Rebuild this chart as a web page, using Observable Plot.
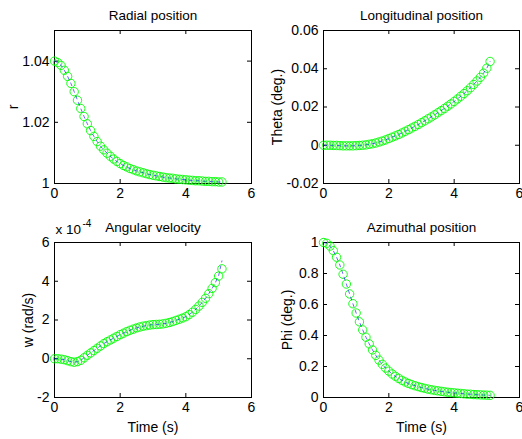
<!DOCTYPE html>
<html><head><meta charset="utf-8">
<script src="https://cdn.jsdelivr.net/npm/d3@7"></script>
<script src="https://cdn.jsdelivr.net/npm/@observablehq/plot@0.6"></script>
<style>
html,body{margin:0;padding:0;background:#fff;}
#fig{position:relative;width:522px;height:439px;overflow:hidden;}
#fig svg{position:absolute;}
</style></head>
<body><div id="fig"></div>
<script>
const time = [0,0.1,0.2,0.3,0.4,0.5,0.6,0.7,0.8,0.9,1.0,1.1,1.2,1.3,1.4,1.5,1.6,1.7,1.8,1.9,2.0,2.1,2.2,2.3,2.4,2.5,2.6,2.7,2.8,2.9,3.0,3.1,3.2,3.3,3.4,3.5,3.6,3.7,3.8,3.9,4.0,4.1,4.2,4.3,4.4,4.5,4.6,4.7,4.8,4.9,5.0,5.1];
const radial = [1.0400,1.0395,1.0386,1.0370,1.0350,1.0327,1.0300,1.0272,1.0245,1.0219,1.0195,1.0173,1.0154,1.0137,1.0122,1.0110,1.0099,1.0089,1.0080,1.0072,1.0065,1.0059,1.0054,1.0049,1.0045,1.0041,1.0038,1.0035,1.0032,1.0029,1.0027,1.0025,1.0023,1.0021,1.0019,1.0018,1.0017,1.0015,1.0014,1.0013,1.0012,1.0011,1.0010,1.0009,1.0009,1.0008,1.0007,1.0007,1.0006,1.0006,1.0005,1.0005];
const theta = [0,0,0,-0.0001,-0.0001,-0.0002,-0.0003,-0.0003,-0.0003,-0.0003,-0.0002,-0.0001,0.0000,0.0002,0.0005,0.0008,0.0012,0.0017,0.0022,0.0028,0.0035,0.0042,0.0049,0.0056,0.0064,0.0073,0.0081,0.0090,0.0099,0.0108,0.0118,0.0128,0.0138,0.0148,0.0159,0.0170,0.0181,0.0192,0.0204,0.0216,0.0229,0.0242,0.0256,0.0270,0.0285,0.0301,0.0318,0.0336,0.0355,0.0377,0.0403,0.0438];
const omegaE4 = [0,0,-0.02,-0.05,-0.10,-0.15,-0.18,-0.15,-0.08,0.05,0.18,0.30,0.42,0.54,0.66,0.78,0.88,0.97,1.06,1.15,1.24,1.32,1.40,1.47,1.53,1.59,1.64,1.68,1.71,1.74,1.76,1.77,1.78,1.80,1.83,1.87,1.92,1.98,2.04,2.10,2.17,2.28,2.40,2.55,2.72,2.91,3.12,3.36,3.63,3.93,4.27,4.64];
const omegaLineE4 = [0,0,-0.02,-0.05,-0.10,-0.15,-0.18,-0.15,-0.08,0.05,0.18,0.30,0.42,0.54,0.66,0.78,0.88,0.97,1.06,1.15,1.24,1.32,1.40,1.47,1.53,1.59,1.64,1.68,1.71,1.74,1.76,1.77,1.78,1.80,1.83,1.87,1.92,1.98,2.04,2.10,2.17,2.28,2.40,2.55,2.72,2.91,3.12,3.36,3.63,3.93,4.30,5.05];
const phi = [1.000,0.995,0.977,0.947,0.905,0.855,0.795,0.732,0.668,0.605,0.545,0.488,0.436,0.389,0.346,0.307,0.272,0.241,0.214,0.190,0.170,0.152,0.137,0.123,0.111,0.100,0.091,0.083,0.076,0.070,0.064,0.059,0.054,0.050,0.046,0.043,0.040,0.037,0.034,0.032,0.030,0.028,0.026,0.024,0.022,0.021,0.019,0.018,0.017,0.016,0.015,0.014];

const titles = ["Radial position","Longitudinal position","Angular velocity","Azimuthal position"];
const yLabels = ["r","Theta (deg.)","w (rad/s)","Phi (deg.)"];
const xLabel = "Time (s)";
const xTicks = [0,2,4,6];
const yTicksR = [1,1.02,1.04];
const yTicksTheta = [-0.02,0,0.02,0.04,0.06];
const yTicksW = [-2,0,2,4,6];
const yTicksPhi = [0,0.2,0.4,0.6,0.8,1];

const fmt = d => String(+(+d).toFixed(4));
const FONT = "'Liberation Sans', Arial, Helvetica, sans-serif";

function panel({vals, lineVals, yDomain, yTicks, title, ylab, ylabOffset, left, top, width, height, ml, mr, mt, mb, xlab, exponent}) {
  const data = time.map((t, i) => ({t, v: vals[i]}));
  const lineData = time.map((t, i) => ({t, v: (lineVals || vals)[i]}));
  const fh = height - mt - mb, fw = width - ml - mr;
  const marks = [
    Plot.frame({stroke: "black", strokeWidth: 1}),
    Plot.tickX(xTicks, {x: d => d, stroke: "black", insetTop: fh - 4}),
    Plot.tickX(xTicks, {x: d => d, stroke: "black", insetBottom: fh - 4}),
    Plot.tickY(yTicks, {y: d => d, stroke: "black", insetRight: fw - 4}),
    Plot.tickY(yTicks, {y: d => d, stroke: "black", insetLeft: fw - 4}),
    Plot.dot(data, {x: "t", y: "v", r: 4.2, stroke: "#00ff00", fill: "none", strokeWidth: 0.9}),
    Plot.line(lineData, {x: "t", y: "v", stroke: "#0000ff", strokeWidth: 0.8, strokeOpacity: 0.75, strokeDasharray: "3,4"}),
    Plot.text([title], {frameAnchor: "top", dy: -15, lineAnchor: "middle", fontSize: 13.5, fill: "black"}),
    Plot.text([ylab], {frameAnchor: "left", rotate: -90, dx: -ylabOffset, lineAnchor: "middle", textAnchor: "middle", fontSize: 14, fill: "black"})
  ];
  if (xlab) marks.push(Plot.text([xlab], {frameAnchor: "bottom", dy: 30, lineAnchor: "middle", fontSize: 14, fill: "black"}));
  if (exponent) {
    marks.push(Plot.text(["x 10"], {frameAnchor: "top-left", dx: 1, dy: -13, textAnchor: "start", lineAnchor: "middle", fontSize: 13.5, fill: "black"}));
    marks.push(Plot.text([exponent], {frameAnchor: "top-left", dx: 28, dy: -19, textAnchor: "start", lineAnchor: "middle", fontSize: 10, fill: "black"}));
  }
  const svg = Plot.plot({
    width, height, marginLeft: ml, marginRight: mr, marginTop: mt, marginBottom: mb,
    style: {fontFamily: FONT, fontSize: "14px", color: "black", background: "white", overflow: "visible"},
    x: {domain: [0, 6], ticks: xTicks, tickSize: 0, tickPadding: 5, tickFormat: fmt, label: null},
    y: {domain: yDomain, ticks: yTicks, tickSize: 0, tickPadding: 5, tickFormat: fmt, label: null},
    marks
  });
  svg.style.left = left + "px";
  svg.style.top = top + "px";
  document.getElementById("fig").appendChild(svg);
}

panel({vals: radial, yDomain: [1, 1.05], yTicks: yTicksR, title: titles[0], ylab: yLabels[0], ylabOffset: 41,
  left: 0, top: 0, width: 261, height: 210, ml: 54, mr: 10, mt: 30, mb: 27});
panel({vals: theta, yDomain: [-0.02, 0.06], yTicks: yTicksTheta, title: titles[1], ylab: yLabels[1], ylabOffset: 46,
  left: 261, top: 0, width: 261, height: 210, ml: 62, mr: 3, mt: 30, mb: 27});
panel({vals: omegaE4, lineVals: omegaLineE4, yDomain: [-2, 6], yTicks: yTicksW, title: titles[2], ylab: yLabels[2], ylabOffset: 26,
  left: 0, top: 210, width: 261, height: 229, ml: 54, mr: 10, mt: 32, mb: 42, xlab: xLabel, exponent: "-4"});
panel({vals: phi, yDomain: [0, 1], yTicks: yTicksPhi, title: titles[3], ylab: yLabels[3], ylabOffset: 36,
  left: 261, top: 210, width: 261, height: 229, ml: 62, mr: 3, mt: 32, mb: 42, xlab: xLabel});
</script></body></html>
